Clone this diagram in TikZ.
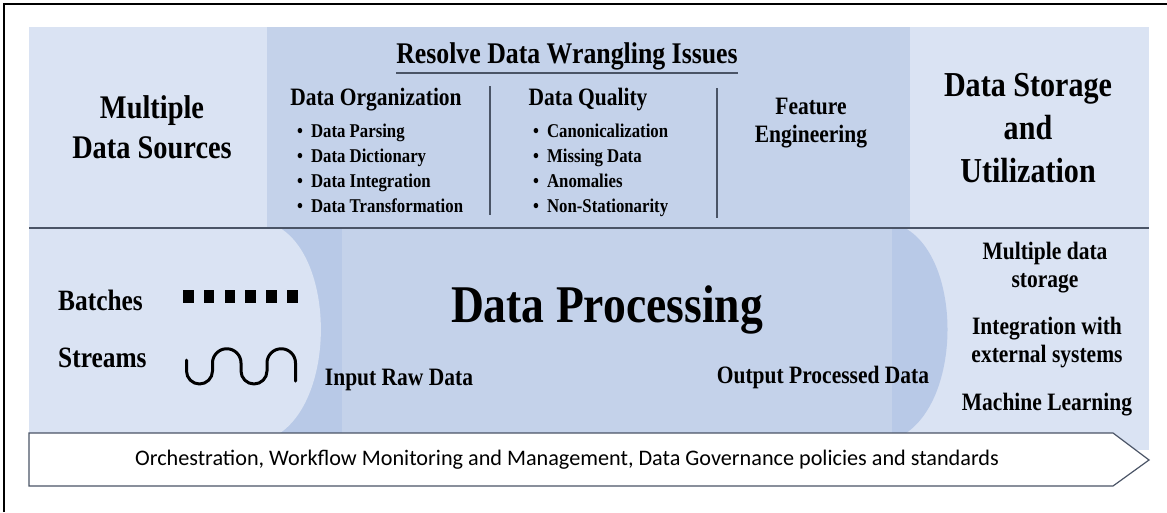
\documentclass[tikz,border=0pt]{standalone}
\usepackage{fontspec}
\setmainfont{Liberation Serif}[FakeStretch=0.86]
\newfontfamily\calibri{Carlito}
\usepackage{tikz}
\definecolor{lightbg}{HTML}{DAE3F3}
\definecolor{midbg}{HTML}{C4D2EA}
\definecolor{darkbg}{HTML}{B8C9E7}
\definecolor{rulegray}{HTML}{4A5466}

\begin{document}
\begin{tikzpicture}[x=1pt, y=-1pt,
    every node/.style={inner sep=0pt, font=\bfseries},
    heading/.style={align=center, font=\bfseries\fontsize{33}{40}\selectfont},
    sub/.style={font=\bfseries\fontsize{25}{27}\selectfont},
    bullets/.style={align=left, font=\bfseries\fontsize{19.5}{25}\selectfont},
    side/.style={align=center, font=\bfseries\fontsize{25}{28}\selectfont},
    rule/.style={draw=rulegray, line width=1.5pt}]
			\useasboundingbox (0,0) rectangle (1167,512);
			\draw[line width=1.5pt] (4,512) -- (4,4) -- (1167,4);
			
			\fill[lightbg] (29,27) rectangle (1149,450);
			\fill[midbg] (267,27) rectangle (910,228);
			\fill[darkbg] (250,228) -- (905,228) .. controls (962,260) and (962,400) .. (903,435) -- (250,435) -- cycle;
			\fill[midbg] (342,228) rectangle (892,435);
			\fill[lightbg] (29,228) -- (280,228) .. controls (335,262) and (335,400) .. (277,435) -- (29,435) -- cycle;
			\draw[rule] (29,228) -- (1149,228);
			
			\node[heading] (sources) at (152,127) {Multiple\\Data Sources};
			\node[heading, font=\bfseries\fontsize{35}{43}\selectfont] (storage) at (1028,128) {Data Storage\\and\\Utilization};
			
			\node[anchor=base, font=\bfseries\fontsize{30}{34}\selectfont] (resolve) at (567,63) {Resolve Data Wrangling Issues};
			\draw[rule] ([yshift=-10pt]resolve.base west) -- ([yshift=-10pt]resolve.base east);
			
			\node[sub, anchor=base] (org) at (376,105) {Data Organization};
			\node[bullets, anchor=north west] (orglist) at (297,124) {\textbullet\hspace{8pt}Data Parsing\\\textbullet\hspace{8pt}Data Dictionary\\\textbullet\hspace{8pt}Data Integration\\\textbullet\hspace{8pt}Data Transformation};
			\node[sub, anchor=base] (quality) at (588,105) {Data Quality};
			\node[bullets, anchor=north west] (qualitylist) at (533,124) {\textbullet\hspace{8pt}Canonicalization\\\textbullet\hspace{8pt}Missing Data\\\textbullet\hspace{8pt}Anomalies\\\textbullet\hspace{8pt}Non-Stationarity};
			\node[side] (feature) at (811,123) {Feature\\Engineering};
			\draw[rule] (490,86) -- (490,215);
			\draw[rule] (717,88) -- (717,218);
			
			\node[anchor=base west, font=\bfseries\fontsize{29.5}{34}\selectfont] (batches) at (58,310) {Batches};
			\node[anchor=base west, font=\bfseries\fontsize{29.5}{34}\selectfont] (streams) at (58,367) {Streams};
			\foreach \i in {0,...,5}
			\fill (183+\i*20.8,290) rectangle ++(10.5,13);
			\draw[line width=3pt, line cap=round, line join=round] (186.5,360) -- (186.5,371) arc[start angle=180, end angle=0, radius=13] -- (212.5,363) arc[start angle=180, end angle=360, radius=14.25] -- (241,371) arc[start angle=180, end angle=0, radius=13] -- (267,363) arc[start angle=180, end angle=360, radius=14.25] -- (295.5,381);
			
			\node[anchor=base, font=\bfseries\fontsize{53}{60}\selectfont] (proc) at (607,322) {Data Processing};
			\node[sub, anchor=base] (input) at (399,385) {Input Raw Data};
			\node[sub, anchor=base] (output) at (823,383) {Output Processed Data};
			
			\node[side] (multi) at (1045,268) {Multiple data\\storage};
			\node[side] (integ) at (1047,343) {Integration with\\external systems};
			\node[sub, anchor=base] (ml) at (1047,410) {Machine Learning};
			
			\draw[draw=rulegray, line width=1.2pt, fill=white] (29,433) -- (1113,433) -- (1149,460) -- (1113,486) -- (29,486) -- cycle;
			\node[anchor=base, font=\calibri\fontsize{22.2}{26}\selectfont] (gov) at (567,465) {Orchestration, Workflow Monitoring and Management, Data Governance policies and standards};
\end{tikzpicture}
\end{document}
